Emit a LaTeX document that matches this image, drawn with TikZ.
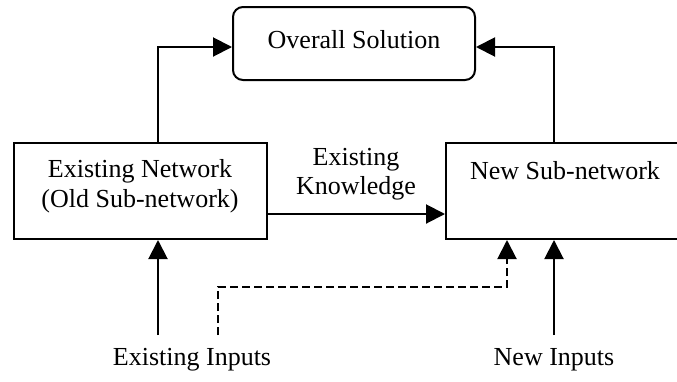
\documentclass[tikz,border=0pt]{standalone}
\usepackage{fontspec}
\setmainfont{Liberation Serif}
\usetikzlibrary{arrows.meta}
\begin{document}
\begin{tikzpicture}[x=1pt,y=-1pt,
  line width=2pt,
  box/.style={draw, line width=2pt, inner sep=0pt},
  txt/.style={font=\fontsize{26}{29.5}\selectfont, align=center, inner sep=0pt},
  arr/.style={-{Triangle[length=19pt,width=19pt]}},
  dashline/.style={dash pattern=on 8pt off 4pt}]
\useasboundingbox[fill=white] (0,0) rectangle (677,381);
% boxes
\node[box, rounded corners=10pt, minimum width=242pt, minimum height=73pt] (sol) at (354,43.5) {};
\node[box, minimum width=253pt, minimum height=96pt] (en) at (140.5,191) {};
\node[box, minimum width=238pt, minimum height=96pt] (ns) at (565,191) {};
% texts
\node[txt] (soltext) at (354,40) {Overall Solution};
\node[txt] (entext) at (140,186) {Existing Network\\(Old Sub-network)};
\node[txt] (nstext) at (565,171) {New Sub-network};
\node[txt] (ek) at (356,174) {Existing\\Knowledge};
\node[txt] (ei) at (192,360) {Existing Inputs};
\node[txt] (ni) at (554,360) {New Inputs};
% coordinates
\coordinate (eiS) at (158,335);
\coordinate (dS) at (218,335);
\coordinate (niS) at (554,335);
% connectors
\draw[arr] (en.north -| eiS) |- (sol.west |- 0,47);
\draw[arr] (ns.north -| niS) |- (sol.east |- 0,47);
\draw[arr] (en.east |- 0,214) -- (ns.west |- 0,214);
\draw[arr] (eiS) -- (eiS |- en.south);
\draw[arr] (niS) -- (niS |- ns.south);
\draw[arr, dashline] (dS) -- (218,287) -| (507,0 |- ns.south);
\end{tikzpicture}
\end{document}
